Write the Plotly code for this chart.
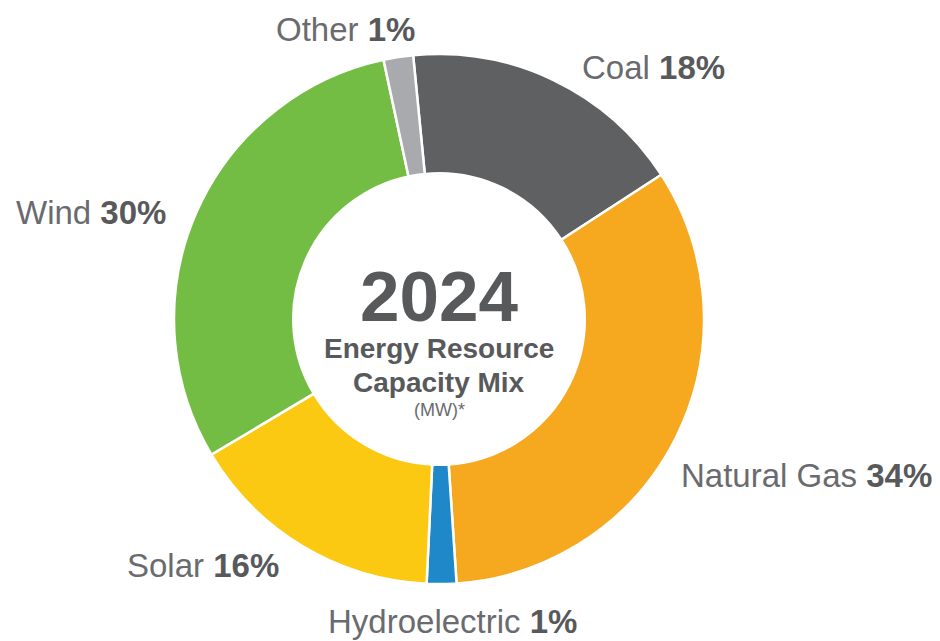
import plotly.graph_objects as go

categories = ["Coal", "Natural Gas", "Hydroelectric", "Solar", "Wind", "Other"]
values = [17.4, 33.1, 1.8, 15.7, 30.2, 1.8]
pct_labels = ["18%", "34%", "1%", "16%", "30%", "1%"]
colors = ["#5f6062", "#f6a81e", "#1f88c9", "#fcc912", "#73bd45", "#a8aaad"]

W, H = 940, 641
cx, cy, r = 439, 319, 265

fig = go.Figure()
fig.add_trace(go.Pie(
    labels=categories,
    values=values,
    sort=False,
    direction="clockwise",
    rotation=-5.6,
    hole=0.55,
    textinfo="none",
    hoverinfo="label+percent",
    marker=dict(colors=colors, line=dict(color="white", width=2.5)),
    domain=dict(x=[(cx - r) / W, (cx + r) / W], y=[1 - (cy + r) / H, 1 - (cy - r) / H]),
    showlegend=False,
))

FONT = "Liberation Sans, Arial, Helvetica, sans-serif"
label_color = "#6a6b6e"
bold_color = "#58595b"

# label placement (pixels): x, y, xanchor
label_pos = {
    "Coal": (580, 68, "left"),
    "Natural Gas": (679, 475, "left"),
    "Hydroelectric": (452, 621, "center"),
    "Solar": (125, 565, "left"),
    "Wind": (14, 213, "left"),
    "Other": (345, 30, "center"),
}

for name, pct in zip(categories, pct_labels):
    px, py, xa = label_pos[name]
    fig.add_annotation(
        x=px / W, y=1 - py / H, xref="paper", yref="paper",
        xanchor=xa, yanchor="middle", showarrow=False,
        text=f"{name} <b><span style='color:{bold_color}'>{pct}</span></b>",
        font=dict(family=FONT, size=33, color=label_color),
    )

# center text
center_lines = [
    ("<b>2024</b>", 297, 71, bold_color),
    ("<b>Energy Resource</b>", 348, 28, bold_color),
    ("<b>Capacity Mix</b>", 382, 28, bold_color),
    ("(MW)*", 410, 18, label_color),
]
for txt, py, size, col in center_lines:
    fig.add_annotation(
        x=cx / W, y=1 - py / H, xref="paper", yref="paper",
        xanchor="center", yanchor="middle", showarrow=False,
        text=txt, font=dict(family=FONT, size=size, color=col),
    )

fig.update_layout(
    width=W, height=H,
    margin=dict(l=0, r=0, t=0, b=0),
    paper_bgcolor="white",
    plot_bgcolor="white",
)

fig.write_html("out.html", config={"displayModeBar": False},
               post_script="document.body.style.margin='0';")
